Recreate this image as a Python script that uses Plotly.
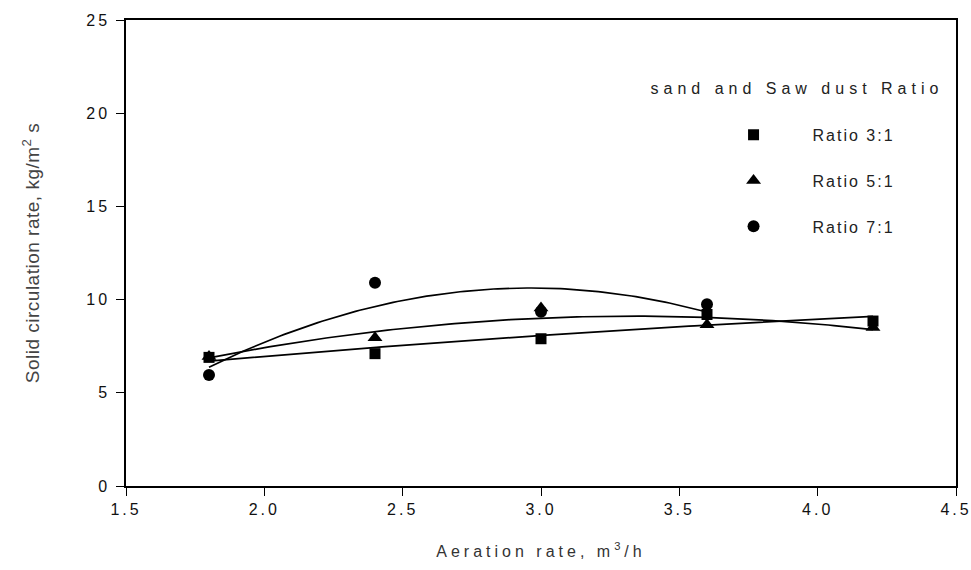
import numpy as np
import plotly.graph_objects as go

# Aeration rate (m3/h) and measured solid circulation rate (kg/m2 s)
aeration = [1.8, 2.4, 3.0, 3.6, 4.2]
ratio_3_1 = [6.9, 7.1, 7.9, 9.2, 8.85]
ratio_5_1 = [6.95, 7.95, 9.55, 8.65, 8.5]
aeration_7_1 = [1.8, 2.4, 3.0, 3.6]
ratio_7_1 = [5.95, 10.9, 9.35, 9.75]

series = [
    ("Ratio 3:1", aeration, ratio_3_1, "square", 11),
    ("Ratio 5:1", aeration, ratio_5_1, "triangle-up", 13),
    ("Ratio 7:1", aeration_7_1, ratio_7_1, "circle", 12),
]

x_ticks = [1.5, 2.0, 2.5, 3.0, 3.5, 4.0, 4.5]
y_ticks = [0, 5, 10, 15, 20, 25]

FONT = "Liberation Sans, Arial, sans-serif"

fig = go.Figure()

# second-order regression curve through each series
for name, xs, ys, sym, size in series:
    coef = np.polyfit(xs, ys, 2)
    xf = np.linspace(min(xs), max(xs), 120)
    fig.add_trace(go.Scatter(
        x=xf, y=np.polyval(coef, xf), mode="lines",
        line=dict(color="black", width=1.7), showlegend=False, hoverinfo="skip"))

for i, (name, xs, ys, sym, size) in enumerate(series):
    fig.add_trace(go.Scatter(
        x=xs, y=ys, mode="markers", name=name, legendgroup=f"g{i}",
        marker=dict(symbol=sym, size=size, color="black", line=dict(width=0))))

axis_common = dict(
    showline=True, linecolor="black", linewidth=1.5, mirror=True,
    ticks="outside", ticklen=8, tickwidth=1, tickcolor="black",
    showgrid=False, zeroline=False, automargin=False,
    tickfont=dict(family=FONT, size=16, color="#111"),
)

fig.update_layout(
    width=971, height=570,
    margin=dict(l=126, r=15, t=20, b=84),
    paper_bgcolor="white", plot_bgcolor="white",
    font=dict(family=FONT),
    xaxis=dict(range=[1.5, 4.5], tickvals=x_ticks,
               ticktext=[f"{v:.1f}" for v in x_ticks],
               title=dict(text="Aeration rate, m<sup>3</sup>/h",
                          font=dict(family=FONT, size=16, color="#333"),
                          standoff=29),
               **axis_common),
    yaxis=dict(range=[0, 25], tickvals=y_ticks, ticklabelstandoff=3,
               title=dict(text="Solid circulation rate, kg/m<sup>2</sup> s",
                          font=dict(family=FONT, size=19, color="#444"),
                          standoff=48),
               **axis_common),
    legend=dict(x=0.685, y=0.79, xanchor="left", yanchor="top",
                itemwidth=108, tracegroupgap=22,
                font=dict(family=FONT, size=16, color="#222"),
                bgcolor="rgba(0,0,0,0)"),
    annotations=[dict(text="sand and Saw dust Ratio", xref="paper", yref="paper",
                      x=0.808, y=0.852, xanchor="center", yanchor="middle",
                      showarrow=False,
                      font=dict(family=FONT, size=16, color="#222"))],
)

# widen character spacing of the axis and legend lettering
spacing_js = """
var gd = document.getElementById('{plot_id}');
function sp(sel, v) { gd.querySelectorAll(sel).forEach(function(t){ t.style.letterSpacing = v; }); }
sp('.xtick text', '3px');
sp('.ytick text', '3px');
sp('.g-xtitle text', '4px');
sp('.g-ytitle text', '0.5px');
sp('.legendtext', '2px');
sp('.annotation-text', '5px');
gd.querySelectorAll('.legend .scrollbox').forEach(function(e){ e.removeAttribute('clip-path'); });
"""

fig.write_html("out.html", post_script=spacing_js)
